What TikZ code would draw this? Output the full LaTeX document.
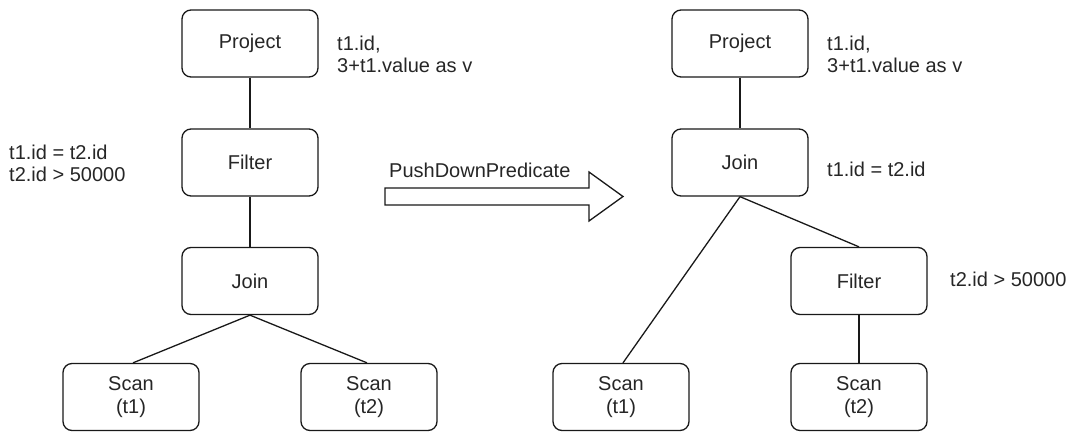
\documentclass[tikz,border=0pt]{standalone}
\usepackage{fontspec}
\setmainfont{Liberation Sans}
\begin{document}
\begin{tikzpicture}[x=1pt,y=-1pt,
  every node/.style={font=\fontsize{20}{22.5}\selectfont, text=black!85},
  opbox/.style={draw=black!90, line width=1.3pt, rounded corners=9pt,
    minimum width=136pt, minimum height=67pt, inner sep=0pt, align=center, fill=white},
  edge/.style={draw=black!90, line width=1.3pt},
  note/.style={inner sep=0pt, align=left}]
\useasboundingbox (0,0) rectangle (1069,432);

% plan before the rewrite
\node[opbox] (lproj) at (250,43.5) {Project};
\node[opbox] (lfilt) at (250,162.5) {Filter};
\node[opbox] (ljoin) at (250,281) {Join};
\node[opbox] (lscan1) at (131,397) {Scan\\(t1)};
\node[opbox] (lscan2) at (369,397) {Scan\\(t2)};

\draw[edge] (lproj.south) -- (lfilt.north);
\draw[edge] (lfilt.south) -- (ljoin.north);
\draw[edge] (ljoin.south) -- ([xshift=2pt]lscan1.north);
\draw[edge] (ljoin.south) -- ([xshift=-2pt]lscan2.north);

\node[note, anchor=north west] (lprojnote) at (337,35.5) {t1.id,\\3+t1.value as v};
\node[note, anchor=north west] (lfiltnote) at (9,144.5) {t1.id = t2.id\\t2.id > 50000};

% rewrite rule arrow
\draw[draw=black!90, line width=1.3pt, fill=white, line join=miter]
  (385,188) -- (589,188) -- (589,172) -- (623,196.5) -- (589,221)
  -- (589,205) -- (385,205) -- cycle;
\node[note, anchor=base west] (rule) at (389,177) {PushDownPredicate};

% plan after the rewrite
\node[opbox] (rproj) at (740,43.5) {Project};
\node[opbox] (rjoin) at (740,162.5) {Join};
\node[opbox] (rfilt) at (859,281) {Filter};
\node[opbox] (rscan1) at (621,397) {Scan\\(t1)};
\node[opbox] (rscan2) at (859,397) {Scan\\(t2)};

\draw[edge] (rproj.south) -- (rjoin.north);
\draw[edge] (rjoin.south) -- ([xshift=2pt]rscan1.north);
\draw[edge] (rjoin.south) -- (rfilt.north);
\draw[edge] (rfilt.south) -- (rscan2.north);

\node[note, anchor=north west] (rprojnote) at (827,35.5) {t1.id,\\3+t1.value as v};
\node[note, anchor=base west] (rjoinnote) at (827,176) {t1.id = t2.id};
\node[note, anchor=base west] (rfiltnote) at (950,286) {t2.id > 50000};
\end{tikzpicture}
\end{document}
